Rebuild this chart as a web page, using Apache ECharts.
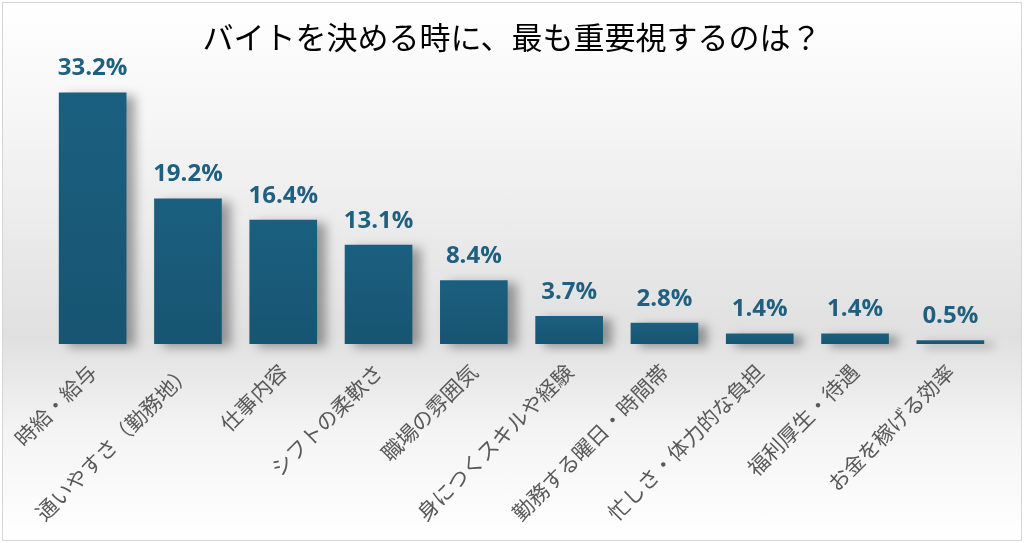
<!DOCTYPE html>
<html>
<head>
<meta charset="utf-8">
<script src="https://cdn.jsdelivr.net/npm/echarts@6/dist/echarts.min.js"></script>
<style>
  html, body { margin: 0; padding: 0; background: #fff; }
  #chart {
    position: absolute; left: 2px; top: 2px; width: 1018px; height: 537px;
    border: 1px solid #d6d6d6;
    background: linear-gradient(to bottom, #ffffff 0%, #f4f4f4 25%, #e0e0e0 62%, #f4f4f4 80%, #ffffff 100%);
  }
</style>
</head>
<body>
<div id="chart"></div>
<script>
  // categories & values (percent)
  var categories = [
    "時給・給与", "通いやすさ（勤務地）", "仕事内容", "シフトの柔軟さ", "職場の雰囲気",
    "身につくスキルや経験", "勤務する曜日・時間帯", "忙しさ・体力的な負担", "福利厚生・待遇", "お金を稼げる効率"
  ];
  var values = [33.2, 19.2, 16.4, 13.1, 8.4, 3.7, 2.8, 1.4, 1.4, 0.5];
  var titleText = "バイトを決める時に、最も重要視するのは？";

  var myChart = echarts.init(document.getElementById("chart"));
  var options = {
    backgroundColor: "transparent",
    title: {
      text: titleText,
      left: "center",
      top: 14,
      textStyle: {
        fontFamily: "Noto Sans CJK JP",
        fontSize: 31,
        fontWeight: "normal",
        color: "#000"
      }
    },
    grid: { left: 42, right: 23, top: 38, bottom: 196 },
    xAxis: {
      type: "category",
      data: categories,
      axisLine: { show: false },
      axisTick: { show: false },
      axisLabel: {
        rotate: 45,
        interval: 0,
        margin: 24,
        color: "#595959",
        fontSize: 21,
        fontFamily: "Noto Sans CJK JP"
      }
    },
    yAxis: {
      type: "value",
      min: 0,
      max: 40,
      show: false,
      splitLine: { show: false }
    },
    series: [{
      type: "bar",
      data: values,
      barCategoryGap: "29%",
      itemStyle: {
        color: new echarts.graphic.LinearGradient(0, 0, 0, 1, [
          { offset: 0, color: "#1b5f80" },
          { offset: 1, color: "#175571" }
        ]),
        shadowColor: "rgba(0,0,0,0.35)",
        shadowBlur: 10,
        shadowOffsetX: 9,
        shadowOffsetY: 3
      },
      label: {
        show: true,
        position: "top",
        distance: 12,
        formatter: function(p) { return p.value.toFixed(1) + "%"; },
        color: "#1f5f80",
        fontSize: 24,
        fontWeight: "bold",
        fontFamily: "Open Sans"
      }
    }]
  };
  myChart.setOption(options);
</script>
</body>
</html>
